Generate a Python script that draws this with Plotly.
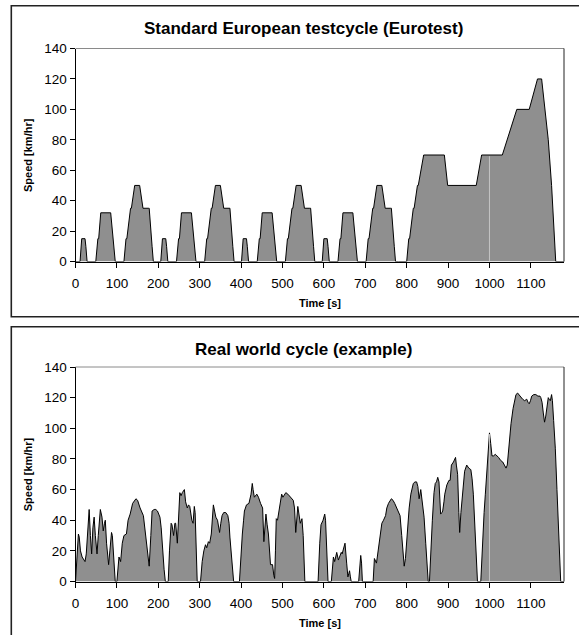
import numpy as np
import plotly.graph_objects as go

# ---------------- Data ----------------
# Standard European test cycle (NEDC: 4x ECE-15 + EUDC)
euro_time = [
    0, 11, 15, 23, 25, 28, 49, 54, 56, 61, 85, 93, 96, 117, 122, 124, 133, 135, 143, 155, 163, 176, 178, 185, 188,
    195, 206, 210, 218, 220, 223, 244, 249, 251, 256, 280, 288, 291, 312, 317, 319, 328, 330, 338, 350, 358, 371, 373, 380, 383,
    390, 401, 405, 413, 415, 418, 439, 444, 446, 451, 475, 483, 486, 507, 512, 514, 523, 525, 533, 545, 553, 566, 568, 575, 578,
    585, 596, 600, 608, 610, 613, 634, 639, 641, 646, 670, 678, 681, 702, 707, 709, 718, 720, 728, 740, 748, 761, 763, 770, 773,
    780, 800, 805, 807, 816, 818, 826, 828, 841, 891, 899, 968, 981, 1031, 1066, 1096, 1116, 1126, 1142, 1150, 1160, 1180,
]
euro_speed = [
    0, 0, 15, 15, 10, 0, 0, 15, 15, 32, 32, 10, 0, 0, 15, 15, 35, 35, 50, 50, 35, 35, 35, 10, 0,
    0, 0, 15, 15, 10, 0, 0, 15, 15, 32, 32, 10, 0, 0, 15, 15, 35, 35, 50, 50, 35, 35, 35, 10, 0,
    0, 0, 15, 15, 10, 0, 0, 15, 15, 32, 32, 10, 0, 0, 15, 15, 35, 35, 50, 50, 35, 35, 35, 10, 0,
    0, 0, 15, 15, 10, 0, 0, 15, 15, 32, 32, 10, 0, 0, 15, 15, 35, 35, 50, 50, 35, 35, 35, 10, 0,
    0, 0, 15, 15, 35, 35, 50, 50, 70, 70, 50, 50, 70, 70, 100, 100, 120, 120, 80, 50, 0, 0,
]

# Real world cycle (example)
real_time = [
    0, 7, 9, 12, 16, 20, 23, 26, 30, 33, 36, 39, 42, 45, 48, 52, 55, 60, 64, 67, 70, 72, 75, 78, 80, 83, 87, 89, 92, 96,
    100, 103, 105, 109, 113, 117, 123, 127, 132, 138, 146, 150, 156, 164, 167, 170, 176, 178, 182, 185, 190, 194, 198, 204, 207, 210, 214, 217,
    224, 227, 231, 233, 237, 240, 242, 246, 249, 252, 255, 258, 263, 266, 270, 273, 276, 281, 284, 287, 289, 291, 294,
    302, 306, 310, 314, 317, 321, 324, 328, 333, 336, 339, 343, 346, 348, 351, 354, 358, 363, 368, 371, 373, 377, 382,
    396, 400, 403, 406, 408, 413, 419, 424, 427, 429, 432, 438, 442, 447, 452, 455, 460, 463, 466, 471, 476, 479, 481,
    483, 485, 488, 492, 498, 501, 508, 513, 520, 526, 529, 532, 537, 540, 543, 547, 550, 554,
    586, 590, 593, 598, 602, 604, 607, 610,
    618, 621, 623, 626, 631, 635, 639, 642, 644, 648, 651, 655, 658, 660, 662, 664, 666,
    684, 687, 689, 691, 693,
    719, 722, 727, 732, 736, 740, 744, 749, 752, 756, 763, 767, 771, 776, 779, 784, 788, 794, 797, 800, 803, 806, 810,
    813, 816, 820, 824, 827, 830, 834, 838, 842, 846, 852,
    855, 858, 862, 866, 869, 872, 875, 878, 880, 882, 885, 887, 890, 892, 897, 902, 905, 908, 913, 916, 918, 920, 923,
    926, 928, 931, 934, 937, 940, 945, 950, 955, 958, 961, 965, 971,
    979, 983, 987, 990, 994, 997, 1000, 1003, 1006, 1010, 1014, 1018, 1022, 1027, 1032, 1036, 1040, 1043, 1048, 1052,
    1057, 1061, 1064, 1068, 1071, 1075, 1080, 1085, 1090, 1093, 1096, 1099, 1102, 1107, 1112, 1117, 1122, 1124, 1127,
    1130, 1133, 1136, 1139, 1142, 1144, 1147, 1150, 1152, 1155, 1159, 1163, 1167, 1172, 1180,
]
real_speed = [
    0, 31, 29, 20, 16, 14, 13, 18, 40, 47, 30, 18, 35, 42, 30, 18, 30, 47, 42, 33, 38, 40, 25, 12, 11, 20, 32, 30, 15, 0,
    0, 12, 16, 13, 25, 30, 31, 40, 44, 51, 54, 53, 48, 43, 35, 27, 11, 10, 30, 46, 47, 47, 46, 42, 35, 22, 8, 0,
    0, 20, 38, 37, 30, 38, 38, 25, 45, 58, 56, 58, 60, 52, 48, 50, 49, 40, 38, 49, 45, 20, 0,
    0, 13, 20, 24, 22, 26, 25, 31, 50, 45, 42, 40, 36, 32, 38, 43, 45, 45, 43, 38, 29, 15, 0,
    0, 20, 31, 40, 46, 50, 51, 57, 64, 60, 55, 57, 55, 51, 48, 26, 44, 37, 31, 11, 11, 4, 2,
    20, 41, 40, 48, 57, 55, 58, 57, 55, 53, 48, 32, 49, 42, 38, 41, 30, 0,
    0, 25, 37, 40, 44, 40, 20, 0,
    0, 12, 16, 13, 19, 14, 17, 19, 18, 22, 25, 12, 3, 5, 7, 3, 0,
    0, 10, 17, 12, 0,
    0, 15, 12, 22, 30, 38, 40, 43, 48, 51, 54, 53, 51, 48, 46, 43, 30, 10, 15, 27, 38, 48, 57,
    60, 64, 65, 65, 62, 54, 60, 50, 42, 25, 0,
    0, 20, 40, 58, 64, 65, 68, 65, 52, 44, 45, 46, 52, 57, 63, 66, 66, 76, 78, 80, 81, 76, 70,
    45, 32, 45, 53, 65, 72, 76, 74, 73, 67, 57, 35, 0,
    0, 25, 45, 57, 75, 88, 97, 90, 82, 82, 83, 82, 81, 79, 78, 76, 74, 76, 93, 103,
    113, 119, 122, 123, 122, 120, 119, 118, 119, 117, 116, 118, 121, 122, 122, 121, 121, 120, 117,
    110, 104, 108, 116, 120, 119, 118, 122, 118, 105, 87, 60, 30, 0, 0,
]

titles = ["Standard European testcycle (Eurotest)", "Real world cycle (example)"]
x_title = "Time [s]"
y_title = "Speed [km/hr]"
x_range = [0, 1180]
y_range = [0, 140]
marker_time = 1000  # light vertical line visible inside the fill

# ---------------- Layout geometry (pixels) ----------------
W, H = 579, 635
FONT = "Liberation Sans, Arial, sans-serif"
FILL = "#8f8f8f"

def py(px):
    return 1 - px / H

def pxx(px):
    return px / W

plot_left, plot_right = 75.5, 564.0
panels = [
    dict(top=48.5, bottom=261.5, box_top=5.7, box_bottom=316.7, title_y=28.5, xt_y=302.5),
    dict(top=367.0, bottom=581.5, box_top=326.7, box_bottom=660, title_y=349.0, xt_y=622.5),
]

fig = go.Figure()
series = [(euro_time, euro_speed), (real_time, real_speed)]

for i, ((t, v), p) in enumerate(zip(series, panels)):
    xa = "x" if i == 0 else "x2"
    ya = "y" if i == 0 else "y2"
    fig.add_trace(go.Scatter(
        x=t, y=v, mode="lines", fill="tozeroy", fillcolor=FILL,
        line=dict(color="black", width=1), xaxis=xa, yaxis=ya,
        showlegend=False, hoverinfo="skip",
    ))
    vline = float(np.interp(marker_time, t, v))
    fig.add_trace(go.Scatter(
        x=[marker_time, marker_time], y=[0, vline - 0.8], mode="lines",
        line=dict(color="#c4c4c4", width=1), xaxis=xa, yaxis=ya,
        showlegend=False, hoverinfo="skip",
    ))

axis_common = dict(
    showgrid=False, zeroline=False, showline=True, linecolor="black", linewidth=1,
    ticks="outside", ticklen=5, tickcolor="black", tickwidth=1,
    tickfont=dict(family=FONT, size=13.5, color="black"),
)

layout = dict(
    width=W, height=H,
    margin=dict(l=0, r=0, t=0, b=0, autoexpand=False),
    paper_bgcolor="white", plot_bgcolor="white",
    showlegend=False,
)
for i, p in enumerate(panels):
    sx = "" if i == 0 else "2"
    layout["xaxis" + sx] = dict(
        axis_common, domain=[pxx(plot_left), pxx(plot_right)], range=x_range,
        tick0=0, dtick=100, anchor="y" + sx, ticklabelstandoff=4,
    )
    layout["yaxis" + sx] = dict(
        axis_common, domain=[py(p["bottom"]), py(p["top"])], range=y_range,
        tick0=0, dtick=20, anchor="x" + sx,
    )
fig.update_layout(**layout)

shapes = []
annotations = []
for i, p in enumerate(panels):
    sx = "" if i == 0 else "2"
    # outer chart box
    shapes.append(dict(type="rect", xref="paper", yref="paper",
                       x0=pxx(11.3), x1=pxx(600), y0=py(p["box_bottom"]), y1=py(p["box_top"]),
                       line=dict(color="#222222", width=1.6), fillcolor="rgba(0,0,0,0)", layer="below"))
    # plot area top (gray) and right (dark) border
    shapes.append(dict(type="line", xref="x" + sx + " domain", yref="y" + sx + " domain",
                       x0=0, x1=1, y0=1, y1=1, line=dict(color="#8a8a8a", width=1)))
    shapes.append(dict(type="line", xref="x" + sx + " domain", yref="y" + sx + " domain",
                       x0=1, x1=1, y0=0, y1=1, line=dict(color="#222222", width=1)))
    annotations.append(dict(text="<b>" + titles[i] + "</b>", xref="paper", yref="paper",
                            x=pxx(303), y=py(p["title_y"]), xanchor="center", yanchor="middle",
                            showarrow=False, font=dict(family=FONT, size=17, color="black")))
    annotations.append(dict(text="<b>" + x_title + "</b>", xref="paper", yref="paper",
                            x=pxx(319.5), y=py(p["xt_y"]), xanchor="center", yanchor="middle",
                            showarrow=False, font=dict(family=FONT, size=11, color="black")))
    annotations.append(dict(text="<b>" + y_title + "</b>", xref="paper", yref="paper",
                            x=pxx(28), y=py((p["top"] + p["bottom"]) / 2), xanchor="center", yanchor="middle",
                            textangle=-90, showarrow=False, font=dict(family=FONT, size=11, color="black")))

fig.update_layout(shapes=shapes, annotations=annotations)
fig.write_html("out.html")
